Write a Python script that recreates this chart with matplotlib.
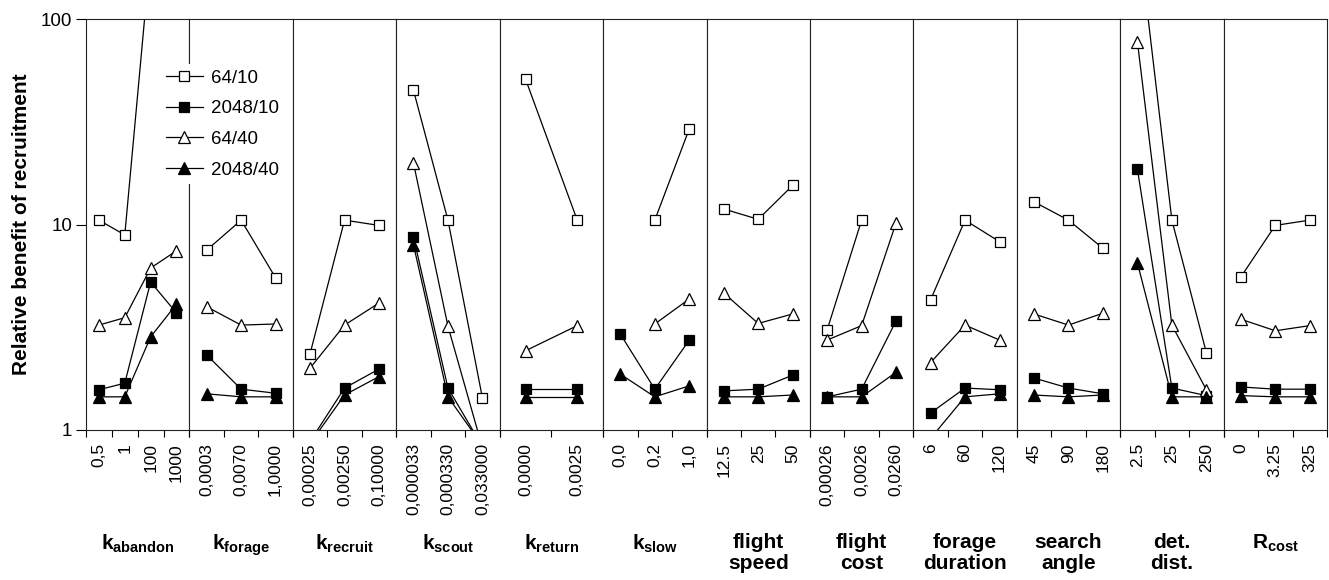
import numpy as np
import matplotlib
matplotlib.use('Agg')
import matplotlib.pyplot as plt
from matplotlib.lines import Line2D

plt.rcParams['font.family'] = ['Liberation Sans', 'DejaVu Sans']
plt.rcParams['mathtext.fontset'] = 'custom'
plt.rcParams['mathtext.rm'] = 'Liberation Sans'
plt.rcParams['mathtext.bf'] = 'Liberation Sans:bold'

nan = np.nan

# parameter panels
panel_names = [r'$\mathbf{k_{abandon}}$', r'$\mathbf{k_{forage}}$', r'$\mathbf{k_{recruit}}$',
               r'$\mathbf{k_{scout}}$', r'$\mathbf{k_{return}}$', r'$\mathbf{k_{slow}}$',
               'flight\nspeed', 'flight\ncost', 'forage\nduration', 'search\nangle',
               'det.\ndist.', r'$\mathbf{R_{cost}}$']

tick_labels = [['0,5', '1', '100', '1000'],
               ['0,0003', '0,0070', '1,0000'],
               ['0,00025', '0,00250', '0,10000'],
               ['0,000033', '0,000330', '0,033000'],
               ['0,0000', '0,0025'],
               ['0,0', '0,2', '1,0'],
               ['12.5', '25', '50'],
               ['0,00026', '0,0026', '0,0260'],
               ['6', '60', '120'],
               ['45', '90', '180'],
               ['2.5', '25', '250'],
               ['0', '3.25', '325']]

# relative benefit of recruitment, one list per panel
s64_10 = [[10.5, 8.9, 210, 260], [7.5, 10.5, 5.5], [2.35, 10.5, 9.9], [45, 10.5, 1.43],
          [51, 10.5], [nan, 10.5, 29.2], [11.9, 10.6, 15.5], [3.07, 10.5, nan],
          [4.3, 10.5, 8.25], [12.9, 10.5, 7.66], [280, 10.5, 2.38], [5.55, 9.9, 10.5]]
s2048_10 = [[1.57, 1.69, 5.25, 3.71], [2.32, 1.58, 1.51], [0.88, 1.6, 1.98], [8.7, 1.6, 0.83],
            [1.58, 1.58], [2.93, 1.58, 2.74], [1.55, 1.58, 1.85], [1.45, 1.58, 3.4],
            [1.21, 1.6, 1.57], [1.79, 1.6, 1.5], [18.6, 1.6, 1.47], [1.62, 1.58, 1.58]]
s64_40 = [[3.24, 3.52, 6.14, 7.45], [3.98, 3.24, 3.28], [2.0, 3.24, 4.15], [19.9, 3.2, 0.82],
          [2.43, 3.22], [nan, 3.28, 4.34], [4.64, 3.3, 3.67], [2.74, 3.22, 10.2],
          [2.13, 3.24, 2.74], [3.67, 3.24, 3.7], [77.5, 3.24, 1.57], [3.46, 3.04, 3.22]]
s2048_40 = [[1.45, 1.45, 2.84, 4.1], [1.5, 1.45, 1.45], [0.86, 1.48, 1.82], [7.95, 1.45, 0.84],
            [1.45, 1.45], [1.87, 1.45, 1.64], [1.45, 1.45, 1.48], [1.45, 1.45, 1.91],
            [0.91, 1.45, 1.5], [1.48, 1.45, 1.48], [6.5, 1.45, 1.45], [1.47, 1.45, 1.45]]

series = [('64/10', s64_10, 's', 'white'),
          ('2048/10', s2048_10, 's', 'black'),
          ('64/40', s64_40, '^', 'white'),
          ('2048/40', s2048_40, '^', 'black')]

fig, axes = plt.subplots(1, 12, figsize=(13.29, 5.8), dpi=100, sharey=True)
fig.subplots_adjust(left=86/1329, right=1327/1329, top=1-19/580, bottom=1-430/580, wspace=0)

for i, ax in enumerate(axes):
    n = len(tick_labels[i])
    x = np.arange(n)
    for name, data, mk, fc in series:
        ms = 7 if mk == 's' else 8
        ax.plot(x, data[i], color='black', lw=0.9, marker=mk, ms=ms,
                mfc=fc, mec='black', mew=0.9)
    ax.set_yscale('log')
    ax.set_ylim(1, 100)
    ax.set_xlim(-0.5, n - 0.5)
    ax.set_xticks(x)
    ax.set_xticklabels(tick_labels[i], rotation=90, fontsize=12.5)
    ax.set_xticks(np.arange(n + 1) - 0.5, minor=True)
    ax.tick_params(axis='x', which='major', length=0, pad=9.5)
    ax.tick_params(axis='x', which='minor', length=5, width=0.8, direction='out')
    ax.yaxis.set_minor_locator(matplotlib.ticker.NullLocator())
    for sp in ax.spines.values():
        sp.set_linewidth(0.8)
        sp.set_color('#222222')
    if i > 0:
        ax.tick_params(axis='y', which='both', left=False, labelleft=False)
    ax.text(0.5, -0.25, panel_names[i], transform=ax.transAxes, ha='center', va='top',
            fontsize=15, fontweight='bold', linespacing=1.15)

axes[0].set_yticks([1, 10, 100])
axes[0].set_yticklabels(['1', '10', '100'], fontsize=13.5)
axes[0].tick_params(axis='y', which='major', length=7, width=0.8, direction='out', pad=3)
axes[0].set_ylabel('Relative benefit of recruitment', fontsize=15, fontweight='bold', labelpad=7)

handles = [Line2D([], [], color='black', lw=0.9, marker=mk, ms=(7 if mk == 's' else 8),
                  mfc=fc, mec='black', mew=0.9) for _, _, mk, fc in series]
labels = [s[0] for s in series]
leg = fig.legend(handles, labels, loc='upper left', bbox_to_anchor=(160/1329, 1-64/580),
                 fontsize=13.5, frameon=True, facecolor='white', edgecolor='none', framealpha=1,
                 fancybox=False, handlelength=2.0, handletextpad=0.4, labelspacing=0.72,
                 borderpad=0.3, borderaxespad=0)

fig.savefig('out.png', dpi=100)
